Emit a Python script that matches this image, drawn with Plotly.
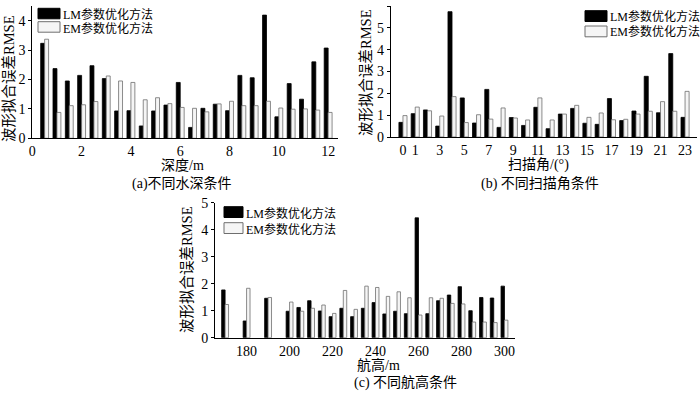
import plotly.graph_objects as go

W, H = 700, 394

# ---------------- data ----------------
depth_m = [0.5, 1.0, 1.5, 2.0, 2.5, 3.0, 3.5, 4.0, 4.5, 5.0, 5.5, 6.0,
           6.5, 7.0, 7.5, 8.0, 8.5, 9.0, 9.5, 10.0, 10.5, 11.0, 11.5, 12.0]
depth_lm = [3.23, 2.37, 1.95, 2.14, 2.47, 2.03, 0.93, 0.94, 0.42, 0.93, 1.13, 1.90,
            0.37, 1.02, 1.16, 0.94, 2.14, 2.06, 4.19, 0.73, 1.86, 1.33, 2.60, 3.07]
depth_em = [3.37, 0.88, 1.11, 1.14, 1.25, 2.12, 1.95, 1.90, 1.31, 1.38, 1.18, 1.05,
            1.02, 0.90, 1.17, 1.26, 1.11, 1.11, 1.26, 1.03, 0.99, 1.00, 0.96, 0.88]
depth_ticks = [0, 2, 4, 6, 8, 10, 12]

angle_deg = [0, 1, 2, 3, 4, 5, 6, 7, 8, 9, 10, 11,
             12, 13, 14, 15, 16, 17, 18, 19, 20, 21, 22, 23]
angle_lm = [0.67, 1.07, 1.24, 0.50, 5.74, 1.79, 0.64, 2.18, 0.44, 0.89, 0.53, 1.36,
            0.38, 1.05, 1.31, 0.63, 0.58, 1.76, 0.75, 1.19, 2.78, 1.11, 3.82, 0.90]
angle_em = [0.98, 1.37, 1.20, 0.96, 1.85, 0.66, 1.02, 0.82, 1.33, 0.87, 0.78, 1.79,
            0.78, 1.05, 1.45, 0.90, 1.10, 0.79, 0.81, 1.05, 1.18, 1.62, 1.18, 2.09]
angle_ticks = [0, 1, 3, 5, 7, 9, 11, 13, 15, 17, 19, 21, 23]

height_m = [170, 180, 190, 200, 205, 210, 215, 220, 225, 230, 235, 240,
            245, 250, 255, 260, 265, 270, 275, 280, 285, 290, 295, 300]
height_lm = [1.77, 0.62, 1.46, 0.98, 1.12, 1.37, 0.99, 0.78, 1.09, 0.78, 1.09, 1.30,
             0.88, 0.98, 0.89, 4.44, 0.89, 1.37, 1.58, 1.89, 1.00, 1.49, 1.47, 1.91]
height_em = [1.23, 1.83, 1.49, 1.32, 0.98, 1.09, 1.21, 0.90, 1.75, 1.05, 1.91, 1.86,
             1.53, 1.70, 1.48, 0.84, 1.48, 1.46, 1.27, 1.25, 0.58, 0.58, 0.56, 0.65]
height_ticks = [180, 200, 220, 240, 260, 280, 300]

LM_NAME = "LM参数优化方法"
EM_NAME = "EM参数优化方法"
YTITLE = "波形拟合误差RMSE"

FONT = "Liberation Serif, 'Noto Sans CJK SC', serif"
LM_FILL, LM_LINE = "#000000", "#000000"
EM_FILL, EM_LINE = "#f5f5f5", "#6e6e6e"


def px_x(x):
    return x / W


def px_y(y):
    return 1 - y / H


fig = go.Figure()

panels = [
    # x, lm, em, xaxis, yaxis, bar width
    (depth_m, depth_lm, depth_em, "x", "y", 0.16),
    (angle_deg, angle_lm, angle_em, "x2", "y2", 0.33),
    (height_m, height_lm, height_em, "x3", "y3", 1.6),
]
for xs, lm, em, xa, ya, w in panels:
    fig.add_trace(go.Bar(x=xs, y=lm, xaxis=xa, yaxis=ya, width=w, offset=-w,
                         marker=dict(color=LM_FILL, line=dict(color=LM_LINE, width=0.8)),
                         showlegend=False, name=LM_NAME))
    fig.add_trace(go.Bar(x=xs, y=em, xaxis=xa, yaxis=ya, width=w, offset=0,
                         marker=dict(color=EM_FILL, line=dict(color=EM_LINE, width=0.8)),
                         showlegend=False, name=EM_NAME))

axis_common = dict(showline=True, linecolor="black", linewidth=1, showgrid=False,
                   zeroline=False, mirror=False, automargin=False,
                   tickfont=dict(family=FONT, size=14, color="black"))
xcommon = dict(axis_common, ticks="")
ycommon = dict(axis_common, ticks="outside", ticklen=3, tickwidth=1, tickcolor="black")

fig.update_layout(
    width=W, height=H,
    margin=dict(l=0, r=0, t=0, b=0, autoexpand=False),
    paper_bgcolor="white", plot_bgcolor="white",
    barmode="overlay",
    font=dict(family=FONT, color="black"),
    xaxis=dict(xcommon, domain=[px_x(32.3), px_x(338)], range=[0, 12.4],
               tickmode="array", tickvals=depth_ticks, anchor="y"),
    yaxis=dict(ycommon, domain=[px_y(138.3), px_y(6)], range=[0, 4.5],
               tickmode="array", tickvals=[0, 1, 2, 3, 4], anchor="x"),
    xaxis2=dict(xcommon, domain=[px_x(390.7), px_x(696.7)], range=[-1.0, 23.95],
                tickmode="array", tickvals=angle_ticks,
                ticktext=[str(t) for t in angle_ticks], anchor="y2"),
    yaxis2=dict(ycommon, domain=[px_y(137), px_y(6)], range=[0, 6],
                tickmode="array", tickvals=[0, 1, 2, 3, 4, 5, 6], anchor="x2"),
    xaxis3=dict(xcommon, domain=[px_x(215), px_x(515)], range=[165.3, 304.9],
                tickmode="array", tickvals=height_ticks, anchor="y3"),
    yaxis3=dict(ycommon, domain=[px_y(337.7), px_y(202.7)], range=[0, 5],
                tickmode="array", tickvals=[0, 1, 2, 3, 4, 5], anchor="x3"),
)

annotations = []


def text(t, x, y, size=14, angle=0, xanchor="center"):
    annotations.append(dict(text=t, x=px_x(x), y=px_y(y), xref="paper", yref="paper",
                            showarrow=False, textangle=angle, xanchor=xanchor,
                            yanchor="middle",
                            font=dict(family=FONT, size=size, color="black")))


# y titles
text(YTITLE, 9, 79, size=14.5, angle=-90)
text(YTITLE, 366, 73, size=14.5, angle=-90)
text(YTITLE, 187, 270, size=14.5, angle=-90)
# x titles
text("深度/m", 182, 165, size=14)
text("扫描角/(°)", 538, 165, size=14)
text("航高/m", 378, 365, size=14)
# captions
text("(a)不同水深条件", 182, 183.5, size=14)
text("(b) 不同扫描角条件", 540, 183.5, size=14)
text("(c) 不同航高条件", 405, 382.5, size=14)

shapes = []


def legend(x0, x1, y_lm, y_em, h, tx, ty_lm, ty_em):
    shapes.append(dict(type="rect", xref="paper", yref="paper",
                       x0=px_x(x0), x1=px_x(x1), y0=px_y(y_lm + h), y1=px_y(y_lm),
                       fillcolor=LM_FILL, line=dict(color=LM_LINE, width=1)))
    shapes.append(dict(type="rect", xref="paper", yref="paper",
                       x0=px_x(x0), x1=px_x(x1), y0=px_y(y_em + h), y1=px_y(y_em),
                       fillcolor=EM_FILL, line=dict(color=EM_LINE, width=1)))
    text(LM_NAME, tx, ty_lm, size=12, xanchor="left")
    text(EM_NAME, tx, ty_em, size=12, xanchor="left")


legend(38, 60, 8.3, 21.7, 10.5, 60.5, 14.5, 28.5)
legend(585, 607, 10.7, 26, 10.8, 607.5, 16.5, 31.5)
legend(224, 243, 206.7, 222.7, 10.8, 243.5, 213, 229)

fig.update_layout(annotations=annotations, shapes=shapes)

fig.write_html("out.html",
               config={"displayModeBar": False, "staticPlot": True},
               post_script="document.body.style.margin='0';"
                           "document.body.style.overflow='hidden';")
